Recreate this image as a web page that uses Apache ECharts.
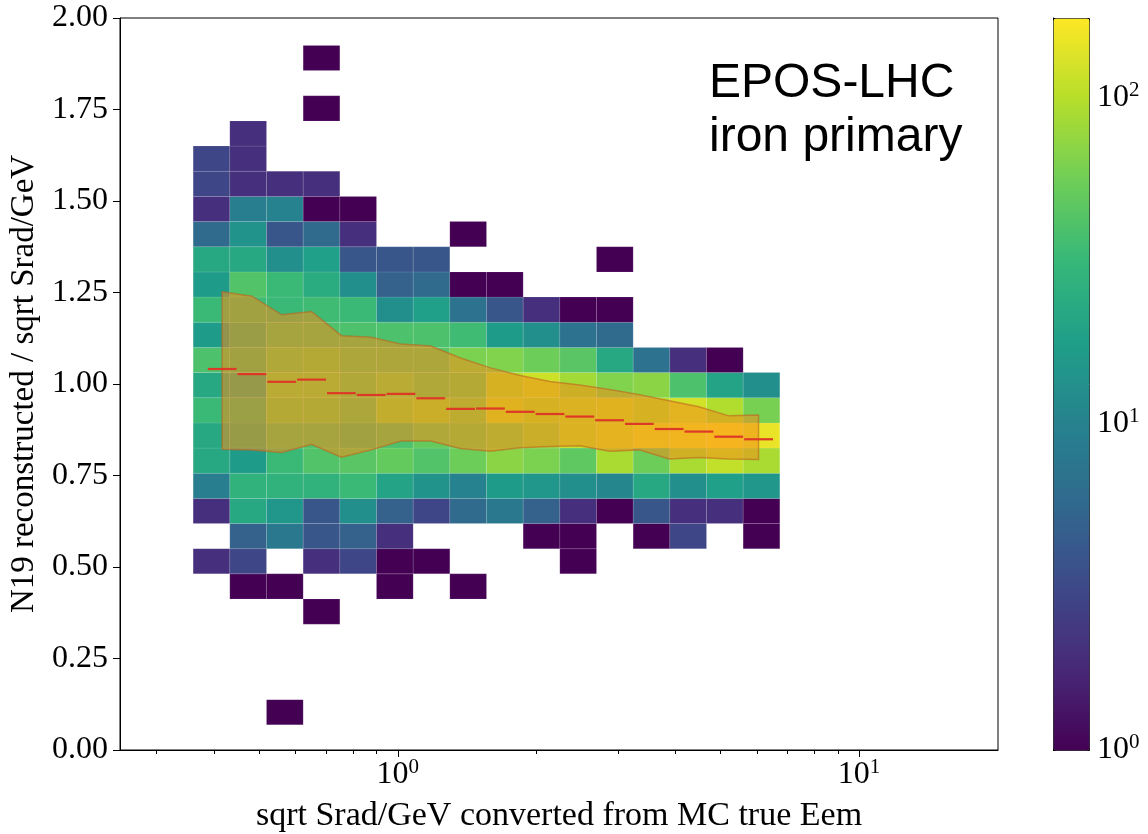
<!DOCTYPE html>
<html><head><meta charset="utf-8">
<script src="https://cdn.jsdelivr.net/npm/echarts@6/dist/echarts.min.js"></script>
<style>html,body{margin:0;padding:0;background:#fff}#c{width:1148px;height:834px}</style>
</head><body><div id="c"></div>
<script>
// ---- data ----
// heatmap column edges (x, log-spaced bins)
const xEdges = [0.3602,0.4325,0.5194,0.6237,0.7489,0.8993,1.0799,1.2968,1.5572,1.8699,2.2454,2.6963,3.2377,3.8878,4.6685,5.6060,6.7317];
// heatmap row edges (y)
const yEdges = [0,0.06875,0.1375,0.20625,0.275,0.34375,0.4125,0.48125,0.55,0.61875,0.6875,0.75625,0.825,0.89375,0.9625,1.03125,1.1,1.16875,1.2375,1.30625,1.375,1.44375,1.5125,1.58125,1.65,1.71875,1.7875,1.85625,1.925];
// counts: one array per column, rows from y=0 upward
const col00 = [0,0,0,0,0,0,0,2,0,2,9,22,22,33,22,40,17,33,17,22,6,2,3,3,0,0,0,0];
const col01 = [0,0,0,0,0,0,1,3,5,22,28,17,25,30,22,35,28,35,42,22,14,9,2,2,2,0,0,0];
const col02 = [0,1,0,0,0,0,1,0,8,15,28,33,40,55,60,50,40,33,33,13,4,10,2,0,0,0,0,0];
const col03 = [0,0,0,0,0,1,0,2,4,4,28,42,40,55,60,55,40,35,24,18,6,1,2,0,0,1,0,1];
const col04 = [0,0,0,0,0,0,0,3,5,13,33,45,35,45,50,45,40,33,13,4,2,1,0,0,0,0,0,0];
const col05 = [0,0,0,0,0,0,1,1,2,5,20,50,40,70,60,45,40,13,5,4,0,0,0,0,0,0,0,0];
const col06 = [0,0,0,0,0,0,0,1,0,3,14,42,50,80,50,45,40,18,6,4,0,0,0,0,0,0,0,0];
const col07 = [0,0,0,0,0,0,1,0,0,6,10,55,55,65,55,62,35,7,1,0,1,0,0,0,0,0,0,0];
const col08 = [0,0,0,0,0,0,0,0,0,8,17,70,65,120,100,65,17,4,1,0,0,0,0,0,0,0,0,0];
const col09 = [0,0,0,0,0,0,0,0,1,5,15,62,80,100,120,55,13,2,0,0,0,0,0,0,0,0,0,0];
const col10 = [0,0,0,0,0,0,0,1,1,2,13,48,110,110,85,45,7,1,0,0,0,0,0,0,0,0,0,0];
const col11 = [0,0,0,0,0,0,0,0,0,1,11,90,130,120,65,22,6,1,0,1,0,0,0,0,0,0,0,0];
const col12 = [0,0,0,0,0,0,0,0,1,4,22,55,150,100,70,7,0,0,0,0,0,0,0,0,0,0,0,0];
const col13 = [0,0,0,0,0,0,0,0,3,2,13,90,160,125,40,2,0,0,0,0,0,0,0,0,0,0,0,0];
const col14 = [0,0,0,0,0,0,0,0,0,2,18,110,176,95,20,1,0,0,0,0,0,0,0,0,0,0,0,0];
const col15 = [0,0,0,0,0,0,0,0,1,1,15,90,150,60,13,0,0,0,0,0,0,0,0,0,0,0,0,0];
const counts = [col00,col01,col02,col03,col04,col05,col06,col07,col08,col09,col10,col11,col12,col13,col14,col15];
const colorMin = 1, colorMax = 176;
// median profile bins (edges), medians and spread band
const medianEdges = [0.3865,0.4483,0.5201,0.6036,0.7006,0.8130,0.9433,1.0945,1.2700,1.4737,1.7102,1.9846,2.3027,2.6717,3.1002,3.5963,4.1736,4.8432,5.6191,6.5219];
const medians   = [1.041,1.027,1.006,1.012,0.975,0.970,0.973,0.961,0.932,0.933,0.924,0.918,0.911,0.901,0.891,0.877,0.870,0.856,0.849];
const bandUpper = [1.252,1.240,1.189,1.198,1.132,1.128,1.109,1.104,1.071,1.044,1.023,1.007,0.997,0.985,0.971,0.954,0.938,0.913,0.915];
const bandLower = [0.822,0.820,0.813,0.835,0.800,0.820,0.844,0.844,0.824,0.816,0.826,0.829,0.831,0.816,0.820,0.795,0.799,0.795,0.794];
const yTicks = [0,0.25,0.5,0.75,1,1.25,1.5,1.75,2];
const xMajor = [1,10];
const cbMajor = [1,10,100];
const annotation = 'EPOS-LHC\niron primary';
const xName = 'sqrt Srad/GeV converted from MC true Eem';
const yName = 'N19 reconstructed / sqrt Srad/GeV';

// ---- build series data ----
const cells = [];
counts.forEach((col, i) => col.forEach((c, k) => {
  if (c > 0) cells.push([xEdges[i], xEdges[i+1], yEdges[k], yEdges[k+1], Math.log10(c), c]);
}));
const bandData = medians.map((m, i) => [Math.sqrt(medianEdges[i]*medianEdges[i+1]), bandLower[i], bandUpper[i]]);
const medianData = medians.map((m, i) => [medianEdges[i], medianEdges[i+1], m]);

const viridis = ['#440154','#482878','#3e4989','#31688e','#26828e','#1f9e89','#35b779','#6ece58','#b5de2b','#fde725'];
const serif = "'Liberation Serif','DejaVu Serif',serif";
const sans = "'Liberation Sans','DejaVu Sans',sans-serif";
const supFmt = v => '{b|10}{s|' + Math.round(Math.log10(v)) + '}';
const rich = {
  b: {fontFamily: serif, fontSize: 32, color: '#000'},
  s: {fontFamily: serif, fontSize: 21, color: '#000', padding: [0, 0, 15, 0]}
};

const chart = echarts.init(document.getElementById('c'), null, {renderer: 'canvas'});
chart.setOption({
  animation: false,
  backgroundColor: '#fff',
  title: {
    text: annotation, left: 709, top: 57, padding: 0,
    textStyle: {fontFamily: sans, fontSize: 48, fontWeight: 'normal', lineHeight: 54, color: '#000'}
  },
  grid: [
    {left: 120, top: 18, width: 878, height: 732, show: true, borderColor: '#000', borderWidth: 1, backgroundColor: 'transparent', outerBoundsMode: 'none', containLabel: false},
    {left: 1053, top: 18, width: 36, height: 732, show: false, outerBoundsMode: 'none', containLabel: false}
  ],
  xAxis: [
    {
      type: 'log', gridIndex: 0, logBase: 10, min: 0.25, max: 20,
      axisLine: {show: true, onZero: false, lineStyle: {color: '#000', width: 1}},
      axisTick: {show: true, inside: false, length: 7, customValues: xMajor, lineStyle: {color: '#000', width: 1}},
      minorTick: {show: true, splitNumber: 9, length: 4, lineStyle: {color: '#000', width: 1}},
      axisLabel: {show: true, customValues: xMajor, formatter: supFmt, rich: rich, margin: 7},
      splitLine: {show: false}, minorSplitLine: {show: false},
      name: xName, nameLocation: 'middle', nameGap: 49,
      nameTextStyle: {fontFamily: serif, fontSize: 34, color: '#000'}
    },
    {type: 'value', gridIndex: 1, min: 0, max: 1, show: false}
  ],
  yAxis: [
    {
      type: 'value', gridIndex: 0, min: 0, max: 2, interval: 0.25,
      axisLine: {show: true, onZero: false, lineStyle: {color: '#000', width: 1}},
      axisTick: {show: true, length: 7, lineStyle: {color: '#000', width: 1}},
      axisLabel: {fontFamily: serif, fontSize: 32, color: '#000', margin: 12, formatter: v => v.toFixed(2)},
      splitLine: {show: false},
      name: yName, nameLocation: 'middle', nameGap: 74,
      nameTextStyle: {fontFamily: serif, fontSize: 33, color: '#000'}
    },
    {
      type: 'log', gridIndex: 1, logBase: 10, min: colorMin, max: colorMax, position: 'right',
      axisLine: {show: true, lineStyle: {color: '#000', width: 1}},
      axisTick: {show: true, length: 7, customValues: cbMajor, lineStyle: {color: '#000', width: 1}},
      minorTick: {show: true, splitNumber: 9, length: 4, lineStyle: {color: '#000', width: 1}},
      axisLabel: {show: true, customValues: cbMajor, formatter: supFmt, rich: rich, margin: 8},
      splitLine: {show: false}
    }
  ],
  visualMap: {
    type: 'continuous', min: Math.log10(colorMin), max: Math.log10(colorMax), dimension: 4, seriesIndex: 0,
    show: true, calculable: false, hoverLink: false, orient: 'vertical',
    left: 1053, top: 18, itemWidth: 36, itemHeight: 732, padding: 0,
    borderColor: '#000', borderWidth: 1, text: null,
    inRange: {color: viridis}
  },
  series: [
    {
      type: 'custom', name: 'hist', xAxisIndex: 0, yAxisIndex: 0, z: 1,
      data: cells, encode: {x: [0, 1], y: [2, 3]},
      renderItem: function (params, api) {
        const p0 = api.coord([api.value(0), api.value(2)]);
        const p1 = api.coord([api.value(1), api.value(3)]);
        return {
          type: 'rect',
          shape: {x: p0[0], y: p1[1], width: p1[0] - p0[0], height: p0[1] - p1[1]},
          style: {fill: api.visual('color'), stroke: 'rgba(255,255,255,0.13)', lineWidth: 0.8}
        };
      }
    },
    {
      type: 'custom', name: 'band', xAxisIndex: 0, yAxisIndex: 0, z: 2,
      data: bandData, encode: {x: 0, y: [1, 2]},
      renderItem: function (params, api) {
        if (params.dataIndex !== 0) return;
        const pts = [];
        bandData.forEach(d => pts.push(api.coord([d[0], d[2]])));
        for (let i = bandData.length - 1; i >= 0; i--) pts.push(api.coord([bandData[i][0], bandData[i][1]]));
        return {
          type: 'polygon', shape: {points: pts},
          style: {fill: 'rgba(240,140,25,0.55)', stroke: 'rgba(190,100,30,0.6)', lineWidth: 1.5}
        };
      }
    },
    {
      type: 'custom', name: 'median', xAxisIndex: 0, yAxisIndex: 0, z: 3,
      data: medianData, encode: {x: [0, 1], y: 2},
      renderItem: function (params, api) {
        const a = api.coord([api.value(0), api.value(2)]);
        const b = api.coord([api.value(1), api.value(2)]);
        return {
          type: 'line', shape: {x1: a[0] + 0.5, y1: a[1], x2: b[0] - 0.5, y2: b[1]},
          style: {stroke: '#dc3a26', lineWidth: 2.2}
        };
      }
    }
  ]
});
</script>
</body></html>
